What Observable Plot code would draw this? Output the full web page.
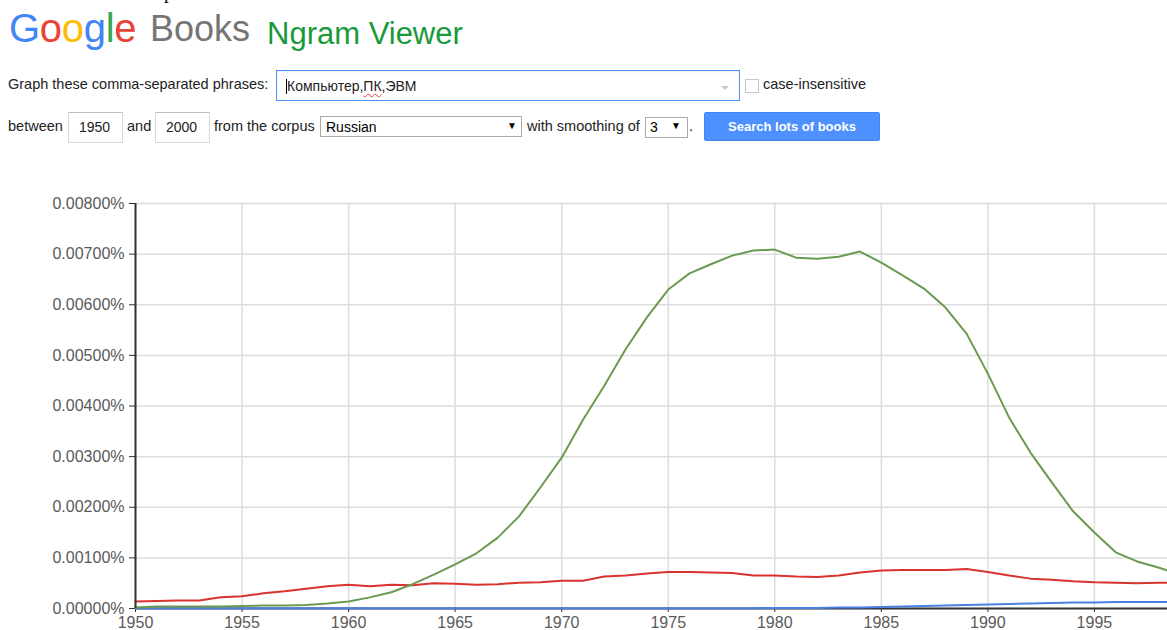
<!DOCTYPE html>
<html>
<head>
<meta charset="utf-8">
<script src="https://cdn.jsdelivr.net/npm/d3@7"></script>
<script src="https://cdn.jsdelivr.net/npm/@observablehq/plot@0.6"></script>
<style>
  html, body { margin: 0; padding: 0; background: #fff; overflow: hidden; width: 1167px; height: 630px; }
  body { position: relative; font-family: Arial, "Liberation Sans", sans-serif; color: #222; }
  .abs { position: absolute; white-space: nowrap; line-height: 1; }
  .t { font-size: 14.5px; color: #222; }
  .box { position: absolute; box-sizing: border-box; background: #fff; }
  #chart { position: absolute; left: 0; top: 170px; }
  #chart svg { font-family: Arial, "Liberation Sans", sans-serif; }
  #chart svg text { font-size: 16px !important; }
</style>
</head>
<body>
<div class="abs" style="left:164px; top:-17px; font-family:'Liberation Serif','Times New Roman',serif; font-size:19px; color:#000;">р</div>

<div class="abs" style="left:9px; top:8px; font-size:40px; letter-spacing:-0.3px;"><span style="color:#4285F4">G</span><span style="color:#EA4335">o</span><span style="color:#FBBC05">o</span><span style="color:#4285F4">g</span><span style="color:#34A853">l</span><span style="color:#EA4335">e</span></div>
<div class="abs" style="left:150px; top:11px; font-size:36px; color:#757575;">Books</div>
<div class="abs" style="left:267px; top:18px; font-size:31px; color:#189a3a;">Ngram Viewer</div>

<div class="abs t" style="left:8px; top:77px;">Graph these comma-separated phrases:</div>
<div class="box" style="left:276px; top:70px; width:464px; height:31px; border:1px solid #4d90fe; box-shadow: inset 0 1px 2px rgba(0,0,0,0.08);"></div>
<div class="box" style="left:286px; top:79px; width:1px; height:15px; background:#000;"></div>
<div class="abs" style="left:287px; top:79px; font-size:14px; color:#222;">Компьютер,<span style="text-decoration: underline wavy #e53935; text-decoration-thickness:1px; text-underline-offset:2px;">ПК</span>,ЭВМ</div>
<div class="box" style="left:721px; top:86px; width:0; height:0; border-left:4px solid transparent; border-right:4px solid transparent; border-top:4px solid #c8c8c8;"></div>
<div class="box" style="left:745px; top:79px; width:14px; height:14px; border:1px solid #c6c6c6;"></div>
<div class="abs t" style="left:763px; top:77px;">case-insensitive</div>

<div class="abs t" style="left:8px; top:119px;">between</div>
<div class="box" style="left:68px; top:112px; width:55px; height:31px; border:1px solid #d9d9d9; border-top-color:#c0c0c0;"></div>
<div class="abs" style="left:79px; top:120px; font-size:14px; color:#222;">1950</div>
<div class="abs t" style="left:127px; top:119px;">and</div>
<div class="box" style="left:155px; top:112px; width:55px; height:31px; border:1px solid #d9d9d9; border-top-color:#c0c0c0;"></div>
<div class="abs" style="left:166px; top:120px; font-size:14px; color:#222;">2000</div>
<div class="abs t" style="left:214px; top:119px;">from the corpus</div>
<div class="box" style="left:320px; top:116px; width:202px; height:21px; border:1px solid #a9a9a9;"></div>
<div class="abs" style="left:326px; top:120px; font-size:14px; color:#000;">Russian</div>
<div class="abs" style="left:507px; top:121px; font-size:10px; color:#000;">▼</div>
<div class="abs t" style="left:527px; top:119px;">with smoothing of</div>
<div class="box" style="left:645px; top:117px; width:43px; height:21px; border:1px solid #a9a9a9;"></div>
<div class="abs" style="left:650px; top:120px; font-size:14px; color:#000;">3</div>
<div class="abs" style="left:671px; top:121px; font-size:10px; color:#000;">▼</div>
<div class="abs t" style="left:689px; top:119px;">.</div>
<div class="box" style="left:704px; top:112px; width:176px; height:29px; background:#4d90fe; border:1px solid #3f85f4; border-radius:2px;"></div>
<div class="abs" style="left:704px; top:120px; width:176px; text-align:center; font-size:13px; font-weight:bold; color:#fff;">Search lots of books</div>

<div id="chart"></div>

<script>
const years = [1950,1951,1952,1953,1954,1955,1956,1957,1958,1959,
               1960,1961,1962,1963,1964,1965,1966,1967,1968,1969,
               1970,1971,1972,1973,1974,1975,1976,1977,1978,1979,
               1980,1981,1982,1983,1984,1985,1986,1987,1988,1989,
               1990,1991,1992,1993,1994,1995,1996,1997,1998,1999];

const seriesNames = ["Компьютер", "ПК", "ЭВМ"];
const seriesColors = ["#4a7fe3", "#d8332e", "#6a9a50"];

// values in percent
const computer = [0.000003,0.000003,0.000003,0.000003,0.000003,0.000003,0.000003,0.000003,0.000003,0.000003,
                  0.000003,0.000003,0.000003,0.000003,0.000003,0.000003,0.000003,0.000003,0.000003,0.000003,
                  0.000006,0.000006,0.000006,0.000006,0.000006,0.000006,0.000006,0.000006,0.000006,0.000006,
                  0.00001,0.00001,0.00001,0.00002,0.00002,0.00003,0.00004,0.00005,0.00006,0.00007,
                  0.00008,0.00009,0.00010,0.00011,0.00012,0.00012,0.00013,0.00013,0.00013,0.00013];

const pk = [0.00014,0.00015,0.00016,0.00016,0.00022,0.00024,0.00030,0.00034,0.00039,0.00044,
            0.00047,0.00044,0.00047,0.00046,0.00050,0.00049,0.00047,0.00048,0.00051,0.00052,
            0.00055,0.00055,0.00063,0.00065,0.00069,0.00072,0.00072,0.00071,0.00070,0.00065,
            0.00065,0.00063,0.00062,0.00065,0.00071,0.00075,0.00076,0.00076,0.00076,0.00078,
            0.00072,0.00065,0.00059,0.00057,0.00054,0.00052,0.00051,0.00050,0.00051,0.00051];

const ebm = [0.00002,0.00004,0.00004,0.00004,0.00004,0.00005,0.00006,0.00006,0.00007,0.00010,
             0.00014,0.00022,0.00032,0.00048,0.00067,0.00087,0.00109,0.00140,0.00182,0.00239,
             0.00298,0.00373,0.00440,0.00512,0.00575,0.00630,0.00662,0.00680,0.00697,0.00707,
             0.00709,0.00693,0.00691,0.00695,0.00705,0.00683,0.00658,0.00632,0.00595,0.00543,
             0.00464,0.00377,0.00308,0.00249,0.00192,0.00150,0.00111,0.00093,0.00081,0.00067];

const xTicks = [1950,1955,1960,1965,1970,1975,1980,1985,1990,1995];
const yTicks = [0,0.001,0.002,0.003,0.004,0.005,0.006,0.007,0.008];

const allSeries = [computer, pk, ebm];
const rows = [];
allSeries.forEach((vals, s) => {
  vals.forEach((v, i) => rows.push({year: years[i], value: v, series: seriesNames[s]}));
});

const fmt = d => d3.format(".5f")(d) + "%";

const chart = Plot.plot({
  width: 1167,
  height: 468,
  marginLeft: 135,
  marginRight: 0,
  marginTop: 33,
  marginBottom: 30,
  style: {fontFamily: "Arial, 'Liberation Sans', sans-serif", fontSize: "16px", background: "#fff", overflow: "hidden"},
  x: {domain: [1950, 1998.43], axis: null},
  y: {domain: [0, 0.008], axis: null},
  color: {domain: seriesNames, range: seriesColors},
  marks: [
    Plot.gridY({ticks: yTicks, stroke: "#dddddd", strokeOpacity: 1, strokeWidth: 1.5}),
    Plot.gridX({ticks: xTicks, stroke: "#dddddd", strokeOpacity: 1, strokeWidth: 1.5}),
    Plot.ruleY([0], {stroke: "#333", strokeWidth: 2}),
    Plot.axisY({ticks: yTicks, tickFormat: fmt, tickSize: 6, tickPadding: 5, stroke: "#333", fill: "#5a5a5a", fontSize: 16, label: null}),
    Plot.axisX({ticks: xTicks, tickFormat: d => String(d), tickSize: 4, tickPadding: 4, stroke: "#333", fill: "#5a5a5a", fontSize: 16, label: null}),
    ...seriesNames.map(name => Plot.line(rows.filter(r => r.series === name), {
      x: "year", y: "value", stroke: "series", strokeWidth: 2, curve: "linear"
    })),
    Plot.ruleX([1950], {stroke: "#333", strokeWidth: 2})
  ]
});
document.getElementById("chart").appendChild(chart);
</script>
</body>
</html>
